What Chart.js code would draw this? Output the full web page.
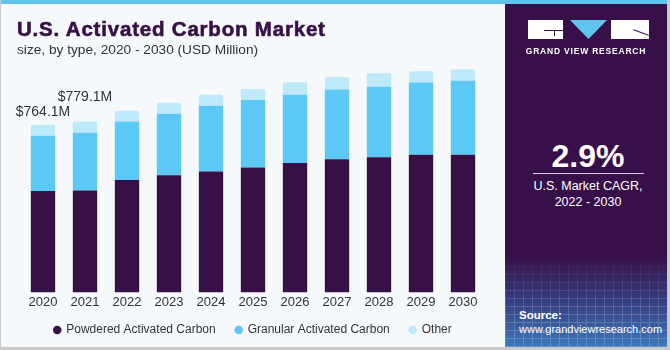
<!DOCTYPE html>
<html>
<head>
<meta charset="utf-8">
<script src="https://cdn.jsdelivr.net/npm/chart.js@4.4.1/dist/chart.umd.min.js"></script>
<style>
	body { margin: 0; background: #c9c9c9; }
	#wrap { position: relative; width: 670px; height: 350px; background: #c9c9c9; overflow: hidden; font-family: "Liberation Sans", Arial, sans-serif; }
	#inner { position: absolute; left: 1px; top: 0; width: 666px; height: 347px; background: #f5f9fc; overflow: hidden; }
	#strip { position: absolute; left: 0; top: 0; width: 666px; height: 4px; background: #5ec5ee; z-index: 5; }
	#title { position: absolute; left: 16px; top: 19px; font-size: 20.5px; line-height: 20px; font-weight: bold; color: #371047; letter-spacing: 0.8px; -webkit-text-stroke: 0.6px #371047; white-space: nowrap; }
	#subtitle { position: absolute; left: 16px; top: 42px; font-size: 13.7px; line-height: 16px; color: #333; white-space: nowrap; }
	#chartBox { position: absolute; left: -1px; top: 0; width: 505px; height: 354px; }
	#panel { position: absolute; left: 504px; top: 0; width: 162px; height: 347px;
		background: linear-gradient(to bottom, #37104a 0%, #37104a 74%, #363a7c 86%, #3d78bb 100%); color: #fff; }
	#grid { position: absolute; left: 0; top: 255px; width: 162px; height: 92px; opacity: 0.18;
		background-image: repeating-linear-gradient(90deg, #fff 0 1px, transparent 1px 9px), repeating-linear-gradient(0deg, #fff 0 1px, transparent 1px 8px);
		-webkit-mask-image: linear-gradient(to bottom, transparent, #000 60%); }
	.blk { position: absolute; background: #fff; }
	#tri { position: absolute; left: 65px; top: 20px; width: 37px; height: 19px; background: #5ec5ee; clip-path: polygon(0 0, 100% 0, 50% 100%); }
	#brand { position: absolute; left: 0; width: 162px; top: 46px; text-align: center; font-size: 8.5px; font-weight: bold; letter-spacing: 0.8px; }
	#cagr { position: absolute; left: 0; width: 166px; top: 138px; text-align: center; font-size: 32px; line-height: 36px; font-weight: bold; }
	#rule { position: absolute; left: 28px; top: 173px; width: 111px; height: 1px; background: #d8d0dc; }
	#cagrTxt { position: absolute; left: 0; width: 166px; top: 178px; text-align: center; font-size: 12.5px; line-height: 16px; }
	#src { position: absolute; left: 14px; top: 308px; font-size: 11px; line-height: 14px; }
</style>
</head>
<body>
<div id="wrap">
	<div id="inner">
		<div id="chartBox"><canvas id="chartMarket"></canvas></div>
		<div id="title">U.S. Activated Carbon Market</div>
		<div id="subtitle">size, by type, 2020 - 2030 (USD Million)</div>
		<div id="panel">
			<div id="grid"></div>
			<div class="blk" style="left:23px;top:20px;width:35px;height:19px;"></div>
			<div style="position:absolute;left:39px;top:30px;width:19px;height:1px;background:#37104a;"></div>
			<div style="position:absolute;left:49px;top:30px;width:1px;height:6px;background:#37104a;"></div>
			<div id="tri"></div>
			<div class="blk" style="left:106px;top:20px;width:38px;height:19px;"></div>
			<div style="position:absolute;left:128px;top:32px;width:16px;height:1px;background:#37104a;transform:rotate(20deg);"></div>
			<div id="brand">GRAND VIEW RESEARCH</div>
			<div id="cagr">2.9%</div>
			<div id="rule"></div>
			<div id="cagrTxt">U.S. Market CAGR,<br>2022 - 2030</div>
			<div id="src"><b style="font-size:11.5px;">Source:</b><br>www.grandviewresearch.com</div>
		</div>
		<div id="strip"></div>
	</div>
</div>
<script>
	'use strict';

	// Market size by type (USD Million)
	const years = ['2020', '2021', '2022', '2023', '2024', '2025', '2026', '2027', '2028', '2029', '2030'];
	const powdered = [463, 465, 513, 534, 551, 570, 590, 607, 616, 628, 628];
	const granular = [251.1, 263, 267, 281, 300, 308, 312, 318, 322, 329, 337];
	const other = [50, 51.1, 49, 50, 50, 50, 56, 58, 61, 52, 53];
	const calloutYears = ['2020', '2021'];
	const calloutText = ['$764.1M', '$779.1M'];

	// value labels above the first two bars
	const calloutPlugin = {
		id: 'callouts',
		afterDatasetsDraw(chart) {
			const ctx = chart.ctx;
			const lift = [13, 24];
			ctx.save();
			ctx.font = '14px "Liberation Sans", Arial, sans-serif';
			ctx.fillStyle = '#333333';
			ctx.textAlign = 'center';
			ctx.textBaseline = 'middle';
			calloutYears.forEach(function(y, i) {
				const idx = years.indexOf(y);
				const total = powdered[idx] + granular[idx] + other[idx];
				const x = chart.scales.x.getPixelForValue(idx);
				const top = chart.scales.y.getPixelForValue(total);
				ctx.fillText(calloutText[i], x, top - lift[i]);
			});
			ctx.restore();
		}
	};

	// pull the legend up closer to the axis labels
	const legendShift = {
		id: 'legendShift',
		afterLayout(chart) {
			chart.legend.top -= 8;
			chart.legend.bottom -= 8;
		}
	};

	new Chart(document.getElementById('chartMarket'), {
		type: 'bar',
		data: {
			labels: years,
			datasets: [{
				label: 'Powdered Activated Carbon',
				data: powdered,
				backgroundColor: '#371047'
			}, {
				label: 'Granular Activated Carbon',
				data: granular,
				backgroundColor: '#5bc8f5'
			}, {
				label: 'Other',
				data: other,
				backgroundColor: '#bde9fb',
				borderRadius: {topLeft: 2, topRight: 2},
				borderSkipped: 'bottom'
			}]
		},
		options: {
			animation: false,
			maintainAspectRatio: false,
			responsive: true,
			layout: {
				padding: {left: 22, right: 21, top: 60, bottom: 0}
			},
			datasets: {
				bar: {
					categoryPercentage: 1,
					barPercentage: 0.58
				}
			},
			plugins: {
				legend: {
					display: true,
					position: 'bottom',
					labels: {
						usePointStyle: true,
						pointStyle: 'circle',
						boxWidth: 6,
						boxHeight: 6,
						padding: 20,
						color: '#333333',
						font: {
							family: '"Liberation Sans", Arial, sans-serif',
							size: 12
						}
					}
				},
				tooltip: {enabled: false}
			},
			scales: {
				x: {
					stacked: true,
					grid: {display: false, drawTicks: false},
					border: {display: false},
					ticks: {
						padding: 2,
						color: '#333333',
						font: {family: '"Liberation Sans", Arial, sans-serif', size: 13}
					}
				},
				y: {
					stacked: true,
					display: false,
					min: 0,
					max: 1060
				}
			}
		},
		plugins: [calloutPlugin, legendShift]
	});
</script>
</body>
</html>
